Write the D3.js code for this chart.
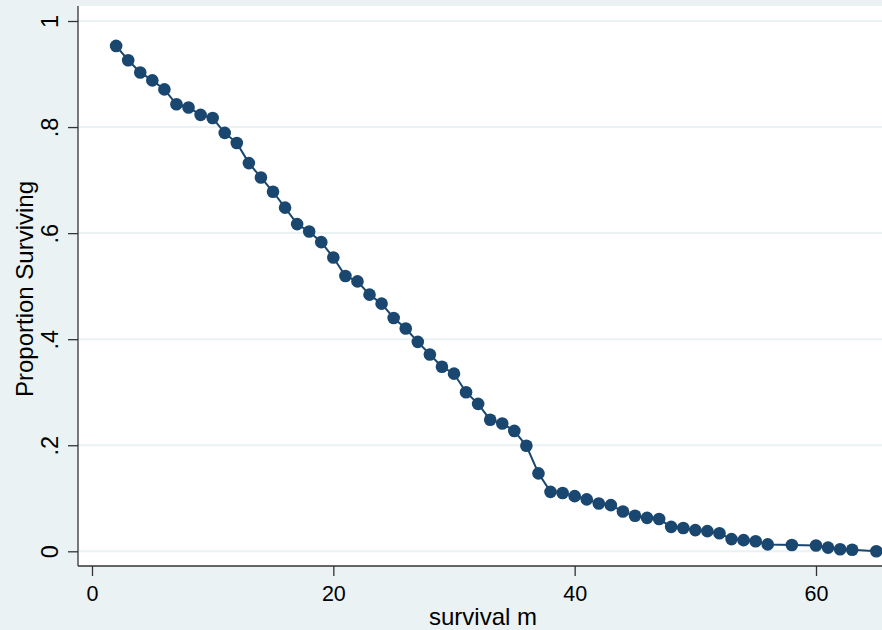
<!DOCTYPE html>
<html lang="en">
<head>
    <meta charset="UTF-8">
    <title>Proportion Surviving</title>
    <script src="https://d3js.org/d3.v7.min.js"></script>
    <style>
        body {
            margin: 0;
            background-color: #eaf2f3;
            font-family: "Liberation Sans", Arial, sans-serif;
        }
        .grid line {
            stroke: #eaf2f3;
            stroke-width: 2px;
        }
        .axis path, .axis line {
            stroke: #333;
            stroke-width: 1.3px;
        }
        .axis text {
            font-size: 21.5px;
            fill: #000;
        }
        .y-axis text {
            font-size: 23.5px;
        }
        .title {
            font-size: 24px;
            fill: #000;
        }
    </style>
</head>
<body>
    <div id="chart"></div>

    <script>
        // survival time in months
        const months = [2, 3, 4, 5, 6, 7, 8, 9, 10, 11, 12, 13, 14, 15, 16, 17, 18, 19, 20,
            21, 22, 23, 24, 25, 26, 27, 28, 29, 30, 31, 32, 33, 34, 35, 36, 37, 38, 39, 40,
            41, 42, 43, 44, 45, 46, 47, 48, 49, 50, 51, 52, 53, 54, 55, 56, 58, 60, 61, 62, 63, 65];

        // proportion surviving at each month
        const surviving = [0.953, 0.926, 0.903, 0.888, 0.871, 0.843, 0.837, 0.823, 0.817, 0.789,
            0.770, 0.732, 0.705, 0.678, 0.648, 0.617, 0.603, 0.583, 0.554,
            0.519, 0.509, 0.484, 0.467, 0.440, 0.420, 0.395, 0.371, 0.348, 0.335,
            0.300, 0.278, 0.248, 0.241, 0.227, 0.199, 0.147, 0.112, 0.110, 0.104,
            0.098, 0.090, 0.087, 0.075, 0.067, 0.063, 0.061, 0.046, 0.044, 0.040,
            0.038, 0.034, 0.023, 0.021, 0.019, 0.013, 0.012, 0.011, 0.007, 0.004, 0.003, 0.000];

        const xTicks = [0, 20, 40, 60];
        const yTicks = [0, 0.2, 0.4, 0.6, 0.8, 1];
        const yTickLabels = ["0", ".2", ".4", ".6", ".8", "1"];

        const width = 882;
        const height = 630;
        const plotLeft = 78, plotTop = 6, plotRight = 882, plotBottom = 566;

        const data = months.map((m, i) => ({ m: m, s: surviving[i] }));

        const svg = d3.select("#chart")
            .append("svg")
            .attr("width", width)
            .attr("height", height);

        const x = d3.scaleLinear().domain([-1.16, 65.47]).range([plotLeft, plotRight]);
        const y = d3.scaleLinear().domain([0, 1]).range([551.3, 21]);

        // plot region
        svg.append("rect")
            .attr("x", plotLeft)
            .attr("y", plotTop)
            .attr("width", plotRight - plotLeft)
            .attr("height", plotBottom - plotTop)
            .attr("fill", "#fff");

        // horizontal grid lines
        svg.append("g")
            .attr("class", "grid")
            .selectAll("line")
            .data(yTicks)
            .enter().append("line")
            .attr("x1", plotLeft)
            .attr("x2", plotRight)
            .attr("y1", d => y(d))
            .attr("y2", d => y(d));

        // y axis
        const yAxis = svg.append("g")
            .attr("class", "axis y-axis")
            .attr("transform", `translate(${plotLeft},0)`)
            .call(d3.axisLeft(y).tickValues(yTicks).tickSize(10).tickSizeOuter(0)
                .tickFormat((d, i) => yTickLabels[i]));
        yAxis.select(".domain").attr("d", `M0,${plotTop}V${plotBottom}`);
        yAxis.selectAll(".tick text")
            .attr("x", null).attr("dy", null)
            .attr("text-anchor", "middle")
            .attr("transform", "translate(-20,0) rotate(-90)");

        // x axis
        const xAxis = svg.append("g")
            .attr("class", "axis")
            .attr("transform", `translate(0,${plotBottom})`)
            .call(d3.axisBottom(x).tickValues(xTicks).tickSize(10).tickSizeOuter(0));
        xAxis.select(".domain").attr("d", `M${plotLeft},0H${plotRight}`);
        xAxis.selectAll(".tick text").attr("y", 35).attr("dy", null);

        // line and markers
        svg.append("path")
            .datum(data)
            .attr("fill", "none")
            .attr("stroke", "#1a476f")
            .attr("stroke-width", 2)
            .attr("d", d3.line().x(d => x(d.m)).y(d => y(d.s)));

        svg.append("g")
            .selectAll("circle")
            .data(data)
            .enter().append("circle")
            .attr("cx", d => x(d.m))
            .attr("cy", d => y(d.s))
            .attr("r", 6.3)
            .attr("fill", "#1a476f");

        // axis titles
        svg.append("text")
            .attr("class", "title")
            .attr("x", 483)
            .attr("y", 625)
            .attr("text-anchor", "middle")
            .text("survival m");

        svg.append("text")
            .attr("class", "title")
            .attr("text-anchor", "middle")
            .attr("transform", "translate(33,289) rotate(-90)")
            .text("Proportion Surviving");
    </script>
</body>
</html>
